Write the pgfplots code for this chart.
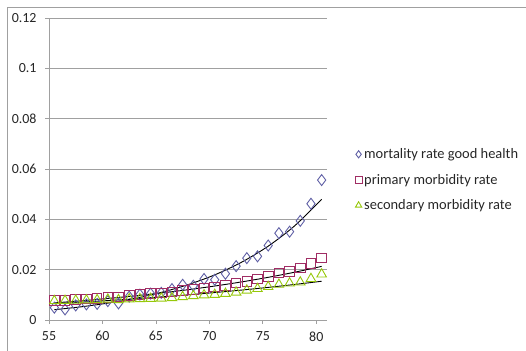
\documentclass[border=0pt]{standalone}
\usepackage{pgfplots}
\pgfplotsset{compat=1.18}
\usepackage{fontspec}
\setmainfont{Carlito}
\definecolor{cdia}{RGB}{95,95,165}
\definecolor{csq}{RGB}{160,45,100}
\definecolor{ctri}{RGB}{150,200,10}
\definecolor{cgrid}{RGB}{160,160,160}
\newcommand{\tfont}{\fontsize{14}{17}\selectfont}
\begin{document}
\begin{tikzpicture}[x=1bp,y=1bp]
\path[use as bounding box] (0,0) rectangle (526,350);
\draw[cgrid,line width=0.8bp] (7,-2) -- (7,343) -- (530,343);
\begin{axis}[
  at={(49bp,30bp)}, anchor=south west,
  scale only axis, width=278bp, height=302bp,
  xmin=55, xmax=81, ymin=0, ymax=0.12,
  xtick={55,60,...,80}, ytick={0,0.02,...,0.12},
  axis x line*=bottom, axis y line*=left,
  axis line style={cgrid, line width=0.8bp, -},
  tick style={cgrid, line width=0.8bp}, tick align=outside, major tick length=4bp,
  ymajorgrids, grid style={cgrid, line width=0.8bp},
  tick label style={text=black!85, font=\tfont},
  xticklabel={\pgfmathprintnumber[assume math mode=true]{\tick}},
  yticklabel={\pgfmathprintnumber[assume math mode=true,fixed,precision=2]{\tick}},
  xticklabel style={yshift=-4bp},
  yticklabel style={xshift=-5bp},
  scaled y ticks=false,
  clip=false,
  legend style={at={(rel axis cs:1.1,0.575)}, anchor=north west, draw=none, fill=none,
    font=\fontsize{14.5}{17}\selectfont, row sep=10bp, inner sep=0pt, text=black!85,
    /tikz/every even column/.append style={column sep=4bp}},
  legend cell align=left,
  legend image code/.code={\draw[#1,mark size=3.6bp] (0bp,0bp) plot coordinates {(0bp,0bp)};},
]
\addplot[only marks, mark=diamond, mark size=5.5bp, cdia, mark options={line width=0.9bp, fill=none}] coordinates {
(55.5,0.0049)(56.5,0.0042)(57.5,0.0058)(58.5,0.0062)(59.5,0.0064)(60.5,0.0075)
(61.5,0.0066)(62.5,0.0093)(63.5,0.0101)(64.5,0.0105)(65.5,0.0108)(66.5,0.0123)
(67.5,0.0140)(68.5,0.0136)(69.5,0.0163)(70.5,0.0160)(71.5,0.0184)(72.5,0.0214)
(73.5,0.0246)(74.5,0.0253)(75.5,0.0296)(76.5,0.0345)(77.5,0.0351)(78.5,0.0394)
(79.5,0.0462)(80.5,0.0556)};
\addlegendentry{mortality rate good health}
\addplot[only marks, mark=square, mark size=4.8bp, csq, mark options={line width=0.9bp, fill=none}] coordinates {
(55.5,0.0078)(56.5,0.0078)(57.5,0.0081)(58.5,0.0084)(59.5,0.0085)(60.5,0.0090)
(61.5,0.0091)(62.5,0.0097)(63.5,0.0101)(64.5,0.0105)(65.5,0.0108)(66.5,0.0111)
(67.5,0.0117)(68.5,0.0121)(69.5,0.0128)(70.5,0.0132)(71.5,0.0137)(72.5,0.0147)
(73.5,0.0154)(74.5,0.0163)(75.5,0.0174)(76.5,0.0187)(77.5,0.0193)(78.5,0.0207)
(79.5,0.0224)(80.5,0.0246)};
\addlegendentry{primary morbidity rate}
\addplot[only marks, mark=triangle, mark size=5.5bp, ctri, mark options={line width=0.9bp, fill=none}] coordinates {
(55.5,0.0076)(56.5,0.0077)(57.5,0.0078)(58.5,0.0079)(59.5,0.0080)(60.5,0.0082)
(61.5,0.0080)(62.5,0.0083)(63.5,0.0084)(64.5,0.0085)(65.5,0.0086)(66.5,0.0088)
(67.5,0.0092)(68.5,0.0096)(69.5,0.0099)(70.5,0.0101)(71.5,0.0105)(72.5,0.0110)
(73.5,0.0118)(74.5,0.0124)(75.5,0.0132)(76.5,0.0141)(77.5,0.0146)(78.5,0.0150)
(79.5,0.0164)(80.5,0.0182)};
\addlegendentry{secondary morbidity rate}
% trend lines
\addplot[black, line width=0.9bp, smooth, forget plot] coordinates {
(55.5,0.00410)(58,0.00524)(60.5,0.00671)(63,0.00858)(65.5,0.01097)(68,0.01403)
(70.5,0.01794)(73,0.02294)(75.5,0.02934)(78,0.03752)(80.5,0.04798)};
\addplot[black, line width=0.9bp, smooth, forget plot] coordinates {
(55.5,0.00680)(58,0.00762)(60.5,0.00855)(63,0.00958)(65.5,0.01074)(68,0.01204)
(70.5,0.01350)(73,0.01513)(75.5,0.01696)(78,0.01901)(80.5,0.02131)};
\addplot[black, line width=0.9bp, smooth, forget plot] coordinates {
(55.5,0.00650)(58,0.00709)(60.5,0.00772)(63,0.00842)(65.5,0.00918)(68,0.01000)
(70.5,0.01091)(73,0.01189)(75.5,0.01296)(78,0.01413)(80.5,0.01540)};
\end{axis}
\end{tikzpicture}
\end{document}
